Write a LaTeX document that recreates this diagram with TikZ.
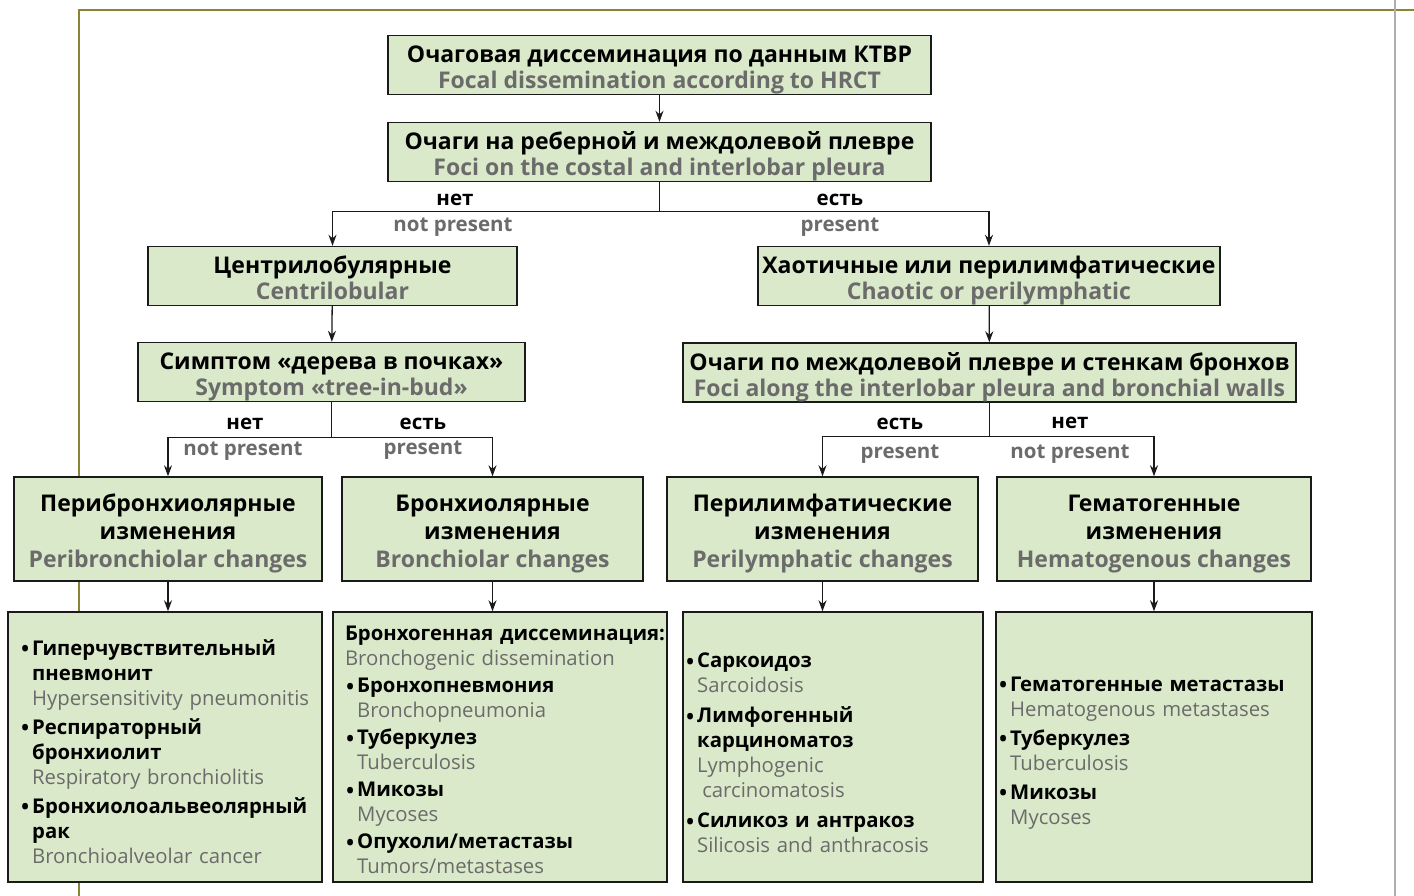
\documentclass[tikz,border=0pt]{standalone}
\usepackage{fontspec}
\setmainfont{Open Sans}
\usetikzlibrary{arrows.meta}
\definecolor{Ink}{HTML}{1A1A1A}
\definecolor{Leaf}{HTML}{DAE9C9}
\definecolor{Ash}{HTML}{6B6B6B}
\definecolor{Olive}{HTML}{8A8433}
\definecolor{Rule}{HTML}{AFAFAF}
\newcommand\en[1]{\textcolor{Ash}{#1}}
\newcommand\hstrut{\rule{0pt}{27pt}}
\newcommand\dstrut{\rule[-6pt]{0pt}{6pt}}
\newcommand\lstrut[1]{\rule{0pt}{#1}}
\newcommand\bulpt{\makebox[0.6em][l]{\raisebox{-3.5pt}{\fontsize{27}{0}\selectfont\textbullet}}}
\newcommand\indpt{\hspace*{0.6em}}
\tikzset{
  header/.style={
    draw=Ink, line width=1.4pt, fill=Leaf, align=center,
    font=\fontsize{23}{26}\selectfont\bfseries, inner sep=0pt
  },
  kind/.style={
    header, font=\fontsize{23}{28}\selectfont\bfseries,
    minimum height=104pt
  },
  listbox/.style={
    draw=Ink, line width=1.4pt, fill=Leaf, align=left,
    font=\fontsize{20.3}{25}\selectfont, minimum height=270pt, inner ysep=0pt
  },
  answer/.style={font=\fontsize{20.5}{22}\selectfont\bfseries, inner sep=0pt, anchor=base},
  flow/.style={-{Stealth[length=11pt,width=8pt]}, line width=1.3pt, draw=Ink},
  split/.style={line width=1.3pt, draw=Ink}
}

\begin{document}
\begin{tikzpicture}[x=1pt,y=-1pt]
  \useasboundingbox (0,0) rectangle (1414,896);
  \draw[Olive, line width=2pt] (79,896) |- (1414,10.5);
  \draw[Rule, line width=2pt] (1395,0) -- (1395,896);

  \node[header, minimum width=543pt, minimum height=58pt] (hrct) at (659.5,65)
    {\hstrut Очаговая диссеминация по данным КТВР\\\en{Focal dissemination according to HRCT}\dstrut};
  \node[header, minimum width=543pt, minimum height=58pt] (pleura) at (659.5,152)
    {\hstrut Очаги на реберной и междолевой плевре\\\en{Foci on the costal and interlobar pleura}\dstrut};
  \node[header, minimum width=369pt, minimum height=56pt] (centri) at (332.5,276)
    {\hstrut Центрилобулярные\\\en{Centrilobular}\dstrut};
  \node[header, minimum width=462pt, minimum height=56pt] (chaotic) at (989,276)
    {\hstrut Хаотичные или перилимфатические\\\en{Chaotic or perilymphatic}\dstrut};
  \node[header, minimum width=387pt, minimum height=56pt] (budsign) at (331.5,372)
    {\hstrut Симптом «дерева в почках»\\\en{Symptom «tree-in-bud»}\dstrut};
  \node[header, minimum width=613pt, minimum height=57pt] (walls) at (989.5,372.5)
    {\hstrut Очаги по междолевой плевре и стенкам бронхов\\\en{Foci along the interlobar pleura and bronchial walls}\dstrut};

  \node[kind, minimum width=308pt] (peri) at (168,529)
    {\hstrut Перибронхиолярные\\изменения\\\en{Peribronchiolar changes}\dstrut};
  \node[kind, minimum width=301pt] (bronch) at (492.5,529)
    {\hstrut Бронхиолярные\\изменения\\\en{Bronchiolar changes}\dstrut};
  \node[kind, minimum width=311pt] (lymph) at (822.5,529)
    {\hstrut Перилимфатические\\изменения\\\en{Perilymphatic changes}\dstrut};
  \node[kind, minimum width=314pt] (hemat) at (1154,529)
    {\hstrut Гематогенные\\изменения\\\en{Hematogenous changes}\dstrut};

  \node[listbox, text width=290pt, inner xsep=12pt] (periList) at (165,747)
    {\lstrut{24.5pt}\bulpt\textbf{Гиперчувствительный}\\
     \indpt\textbf{пневмонит}\\
     \indpt\en{Hypersensitivity pneumonitis}\\[4pt]
     \bulpt\textbf{Респираторный}\\
     \indpt\textbf{бронхиолит}\\
     \indpt\en{Respiratory bronchiolitis}\\[4pt]
     \bulpt\textbf{Бронхиолоальвеолярный}\\
     \indpt\textbf{рак}\\
     \indpt\en{Bronchioalveolar cancer}};
  \node[listbox, text width=310pt, inner xsep=12pt] (bronchList) at (500,747)
    {\lstrut{20.5pt}\mbox{\textbf{Бронхогенная диссеминация:}}\\
     \en{Bronchogenic dissemination}\\[2pt]
     \bulpt\textbf{Бронхопневмония}\\
     \indpt\en{Bronchopneumonia}\\[2pt]
     \bulpt\textbf{Туберкулез}\\
     \indpt\en{Tuberculosis}\\[2pt]
     \bulpt\textbf{Микозы}\\
     \indpt\en{Mycoses}\\[2pt]
     \bulpt\textbf{Опухоли/метастазы}\\
     \indpt\en{Tumors/metastases}};
  \node[listbox, text width=296pt, inner xsep=2pt] (lymphList) at (833,747)
    {\lstrut{26.5pt}\bulpt\textbf{Саркоидоз}\\
     \indpt\en{Sarcoidosis}\\[5pt]
     \bulpt\textbf{Лимфогенный}\\
     \indpt\textbf{карциноматоз}\\
     \indpt\en{Lymphogenic}\\
     \indpt\hspace*{0.25em}\en{carcinomatosis}\\[5pt]
     \bulpt\textbf{Силикоз и антракоз}\\
     \indpt\en{Silicosis and anthracosis}};
  \node[listbox, text width=312pt, inner xsep=2pt] (hematList) at (1154,747)
    {\lstrut{26.5pt}\bulpt\textbf{Гематогенные метастазы}\\
     \indpt\en{Hematogenous metastases}\\[4pt]
     \bulpt\textbf{Туберкулез}\\
     \indpt\en{Tuberculosis}\\[4pt]
     \bulpt\textbf{Микозы}\\
     \indpt\en{Mycoses}};

  \node[answer] (no1) at (455,206) {нет};
  \node[answer, Ash] (no1en) at (453,232) {not present};
  \node[answer] (yes1) at (840,206) {есть};
  \node[answer, Ash] (yes1en) at (840,232) {present};
  \node[answer] (no2) at (245,429) {нет};
  \node[answer, Ash] (no2en) at (243,455) {not present};
  \node[answer] (yes2) at (423,429) {есть};
  \node[answer, Ash] (yes2en) at (423,454) {present};
  \node[answer] (yes3) at (900,429) {есть};
  \node[answer, Ash] (yes3en) at (900,458) {present};
  \node[answer] (no3) at (1070,428) {нет};
  \node[answer, Ash] (no3en) at (1070,458) {not present};

  \coordinate (fork1) at ([yshift=-29pt]pleura.south);
  \coordinate (fork2) at ([yshift=-35pt]budsign.south);
  \coordinate (fork3) at ([yshift=-34pt]walls.south);

  \draw[flow] (hrct) -- (pleura);
  \draw[split] (pleura.south) -- (fork1);
  \draw[flow] (fork1) -| (centri.north);
  \draw[flow] (fork1) -| (chaotic.north);
  \draw[flow] (centri) -- (budsign);
  \draw[flow] (chaotic) -- (walls);
  \draw[split] (budsign.south) -- (fork2);
  \draw[flow] (fork2) -| (peri.north);
  \draw[flow] (fork2) -| (bronch.north);
  \draw[split] (walls.south) -- (fork3);
  \draw[flow] (fork3) -| (lymph.north);
  \draw[flow] (fork3) -| (hemat.north);
  \draw[flow] (peri.south) -- (peri.south |- periList.north);
  \draw[flow] (bronch.south) -- (bronch.south |- bronchList.north);
  \draw[flow] (lymph.south) -- (lymph.south |- lymphList.north);
  \draw[flow] (hemat.south) -- (hemat.south |- hematList.north);
\end{tikzpicture}
\end{document}
